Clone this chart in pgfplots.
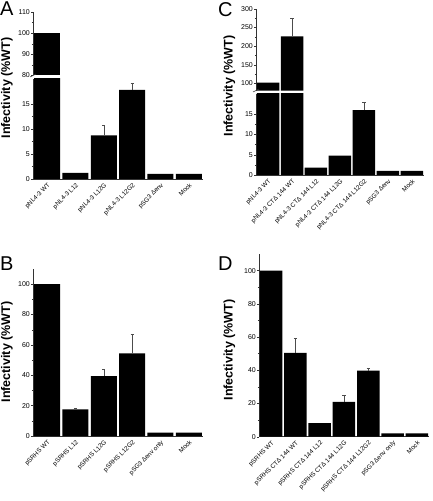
\documentclass[border=0pt]{standalone}
\usepackage{pgfplots}
\pgfplotsset{compat=1.18}
\usepackage{fontspec}
\setmainfont{Liberation Sans}

\pgfplotsset{
  panel/.style={
    scale only axis,
    anchor=south west,
    axis x line*=bottom,
    axis y line*=left,
    axis line style={line width=0.5pt, black!80},
    tick align=outside,
    major tick length=2pt,
    minor tick length=1.2pt,
    minor y tick num=1,
    y tick style={line width=0.4pt, black!80},
    xtick style={draw=none},
    xtick={0,1,2,3,4,5,6},
    yticklabel style={font=\fontsize{7}{8}\selectfont, inner sep=1pt},
    xticklabel style={font=\fontsize{6.3}{7}\selectfont, rotate=45, anchor=north east, inner sep=1pt},
    /pgf/number format/assume math mode=true,
    xmin=-0.5,
    clip=true,
  },
  upper/.style={axis x line=none, xtick=\empty},
  barplot/.style={ybar, bar shift=0pt, fill=black, draw=none},
  errplot/.style={draw=none, mark=none, forget plot,
    error bars/.cd, y dir=plus, y explicit,
    error bar style={line width=0.5pt, black!70},
    error mark options={rotate=90, mark size=1.6pt, line width=0.5pt, black!70}},
}

\begin{document}
\begin{tikzpicture}[x=1pt,y=1pt]
\useasboundingbox (0,0) rectangle (432,501);

% ---------------- Panel A ----------------
\begin{axis}[panel, at={(33pt,322pt)}, width=170pt, height=100pt,
  xmax=5.5, ymin=0, ymax=20, ytick={0,5,10,15},
  xticklabels={pNL4-3 WT, pNL4-3 L12, pNL4-3 L12G, pNL4-3 L12G2, pSG3 Δenv, Mock}]
\addplot[barplot, bar width=26pt] coordinates {(0,100) (1,1.2) (2,8.7) (3,17.8) (4,1.0) (5,1.0)};
\addplot[errplot] coordinates {(2,8.7) +- (0,2.0) (3,17.8) +- (0,1.3)};
\end{axis}
\begin{axis}[panel, upper, at={(33pt,425.5pt)}, width=170pt, height=63.5pt,
  xmax=5.5, ymin=80, ymax=110, ytick={80,90,100,110}]
\addplot[barplot, bar width=26pt] coordinates {(0,100)};
\end{axis}

% ---------------- Panel C ----------------
\begin{axis}[panel, at={(256pt,326pt)}, width=168pt, height=81pt,
  xmax=6.5, ymin=0, ymax=20, ytick={0,5,10,15},
  xticklabels={pNL4-3 WT, pNL4-3 CTΔ 144 WT, pNL4-3 CTΔ 144 L12, pNL4-3 CTΔ 144 L12G, pNL4-3 CTΔ 144 L12G2, pSG3 Δenv, Mock}]
\addplot[barplot, bar width=22.5pt] coordinates {(0,102) (1,226) (2,1.8) (3,4.8) (4,16.0) (5,1.0) (6,1.0)};
\addplot[errplot] coordinates {(4,16.0) +- (0,2.0)};
\end{axis}
\begin{axis}[panel, upper, at={(256pt,410.3pt)}, width=168pt, height=81.7pt,
  xmax=6.5, ymin=80, ymax=300, ytick={100,150,200,250,300}, minor y tick num=1]
\addplot[barplot, bar width=22.5pt] coordinates {(0,102) (1,226)};
\addplot[errplot] coordinates {(1,226) +- (0,48)};
\end{axis}

% ---------------- Panel B ----------------
\begin{axis}[panel, at={(33pt,65pt)}, width=170pt, height=167pt,
  xmax=5.5, ymin=0, ymax=110, ytick={0,20,40,60,80,100},
  xticklabels={pSRHS WT, pSRHS L12, pSRHS L12G, pSRHS L12G2, pSG3 Δenv only, Mock}]
\addplot[barplot, bar width=26pt] coordinates {(0,100) (1,17.5) (2,39.5) (3,54.5) (4,2.2) (5,2.2)};
\addplot[errplot] coordinates {(1,17.5) +- (0,0.8) (2,39.5) +- (0,4.3) (3,54.5) +- (0,12.3)};
\end{axis}

% ---------------- Panel D ----------------
\begin{axis}[panel, at={(259pt,64.3pt)}, width=170pt, height=182.7pt,
  xmax=6.5, ymin=0, ymax=110, ytick={0,20,40,60,80,100},
  xticklabels={pSRHS WT, pSRHS CTΔ 144 WT, pSRHS CTΔ 144 L12, pSRHS CTΔ 144 L12G, pSRHS CTΔ 144 L12G2, pSG3 Δenv only, Mock}]
\addplot[barplot, bar width=22.5pt] coordinates {(0,100) (1,50.5) (2,8.2) (3,21) (4,39.8) (5,2.0) (6,2.0)};
\addplot[errplot] coordinates {(1,50.5) +- (0,9) (3,21) +- (0,4) (4,39.8) +- (0,1.2)};
\end{axis}

% break marks
\draw[black!80, line width=0.5pt] (30,424) -- (36,427);
\draw[black!80, line width=0.5pt] (253,409) -- (259,412);

% panel letters
\node[anchor=north west, inner sep=0, font=\fontsize{20}{20}\selectfont] at (0,499) {A};
\node[anchor=north west, inner sep=0, font=\fontsize{20}{20}\selectfont] at (218,499) {C};
\node[anchor=north west, inner sep=0, font=\fontsize{20}{20}\selectfont] at (0,244) {B};
\node[anchor=north west, inner sep=0, font=\fontsize{20}{20}\selectfont] at (218,244) {D};

% y labels
\node[rotate=90, inner sep=0, font=\bfseries\fontsize{12.5}{13}\selectfont] at (7,413) {Infectivity (\%WT)};
\node[rotate=90, inner sep=0, font=\bfseries\fontsize{12.5}{13}\selectfont] at (229.5,415) {Infectivity (\%WT)};
\node[rotate=90, inner sep=0, font=\bfseries\fontsize{12.5}{13}\selectfont] at (7,149) {Infectivity (\%WT)};
\node[rotate=90, inner sep=0, font=\bfseries\fontsize{12.5}{13}\selectfont] at (229.5,151) {Infectivity (\%WT)};
\end{tikzpicture}
\end{document}
